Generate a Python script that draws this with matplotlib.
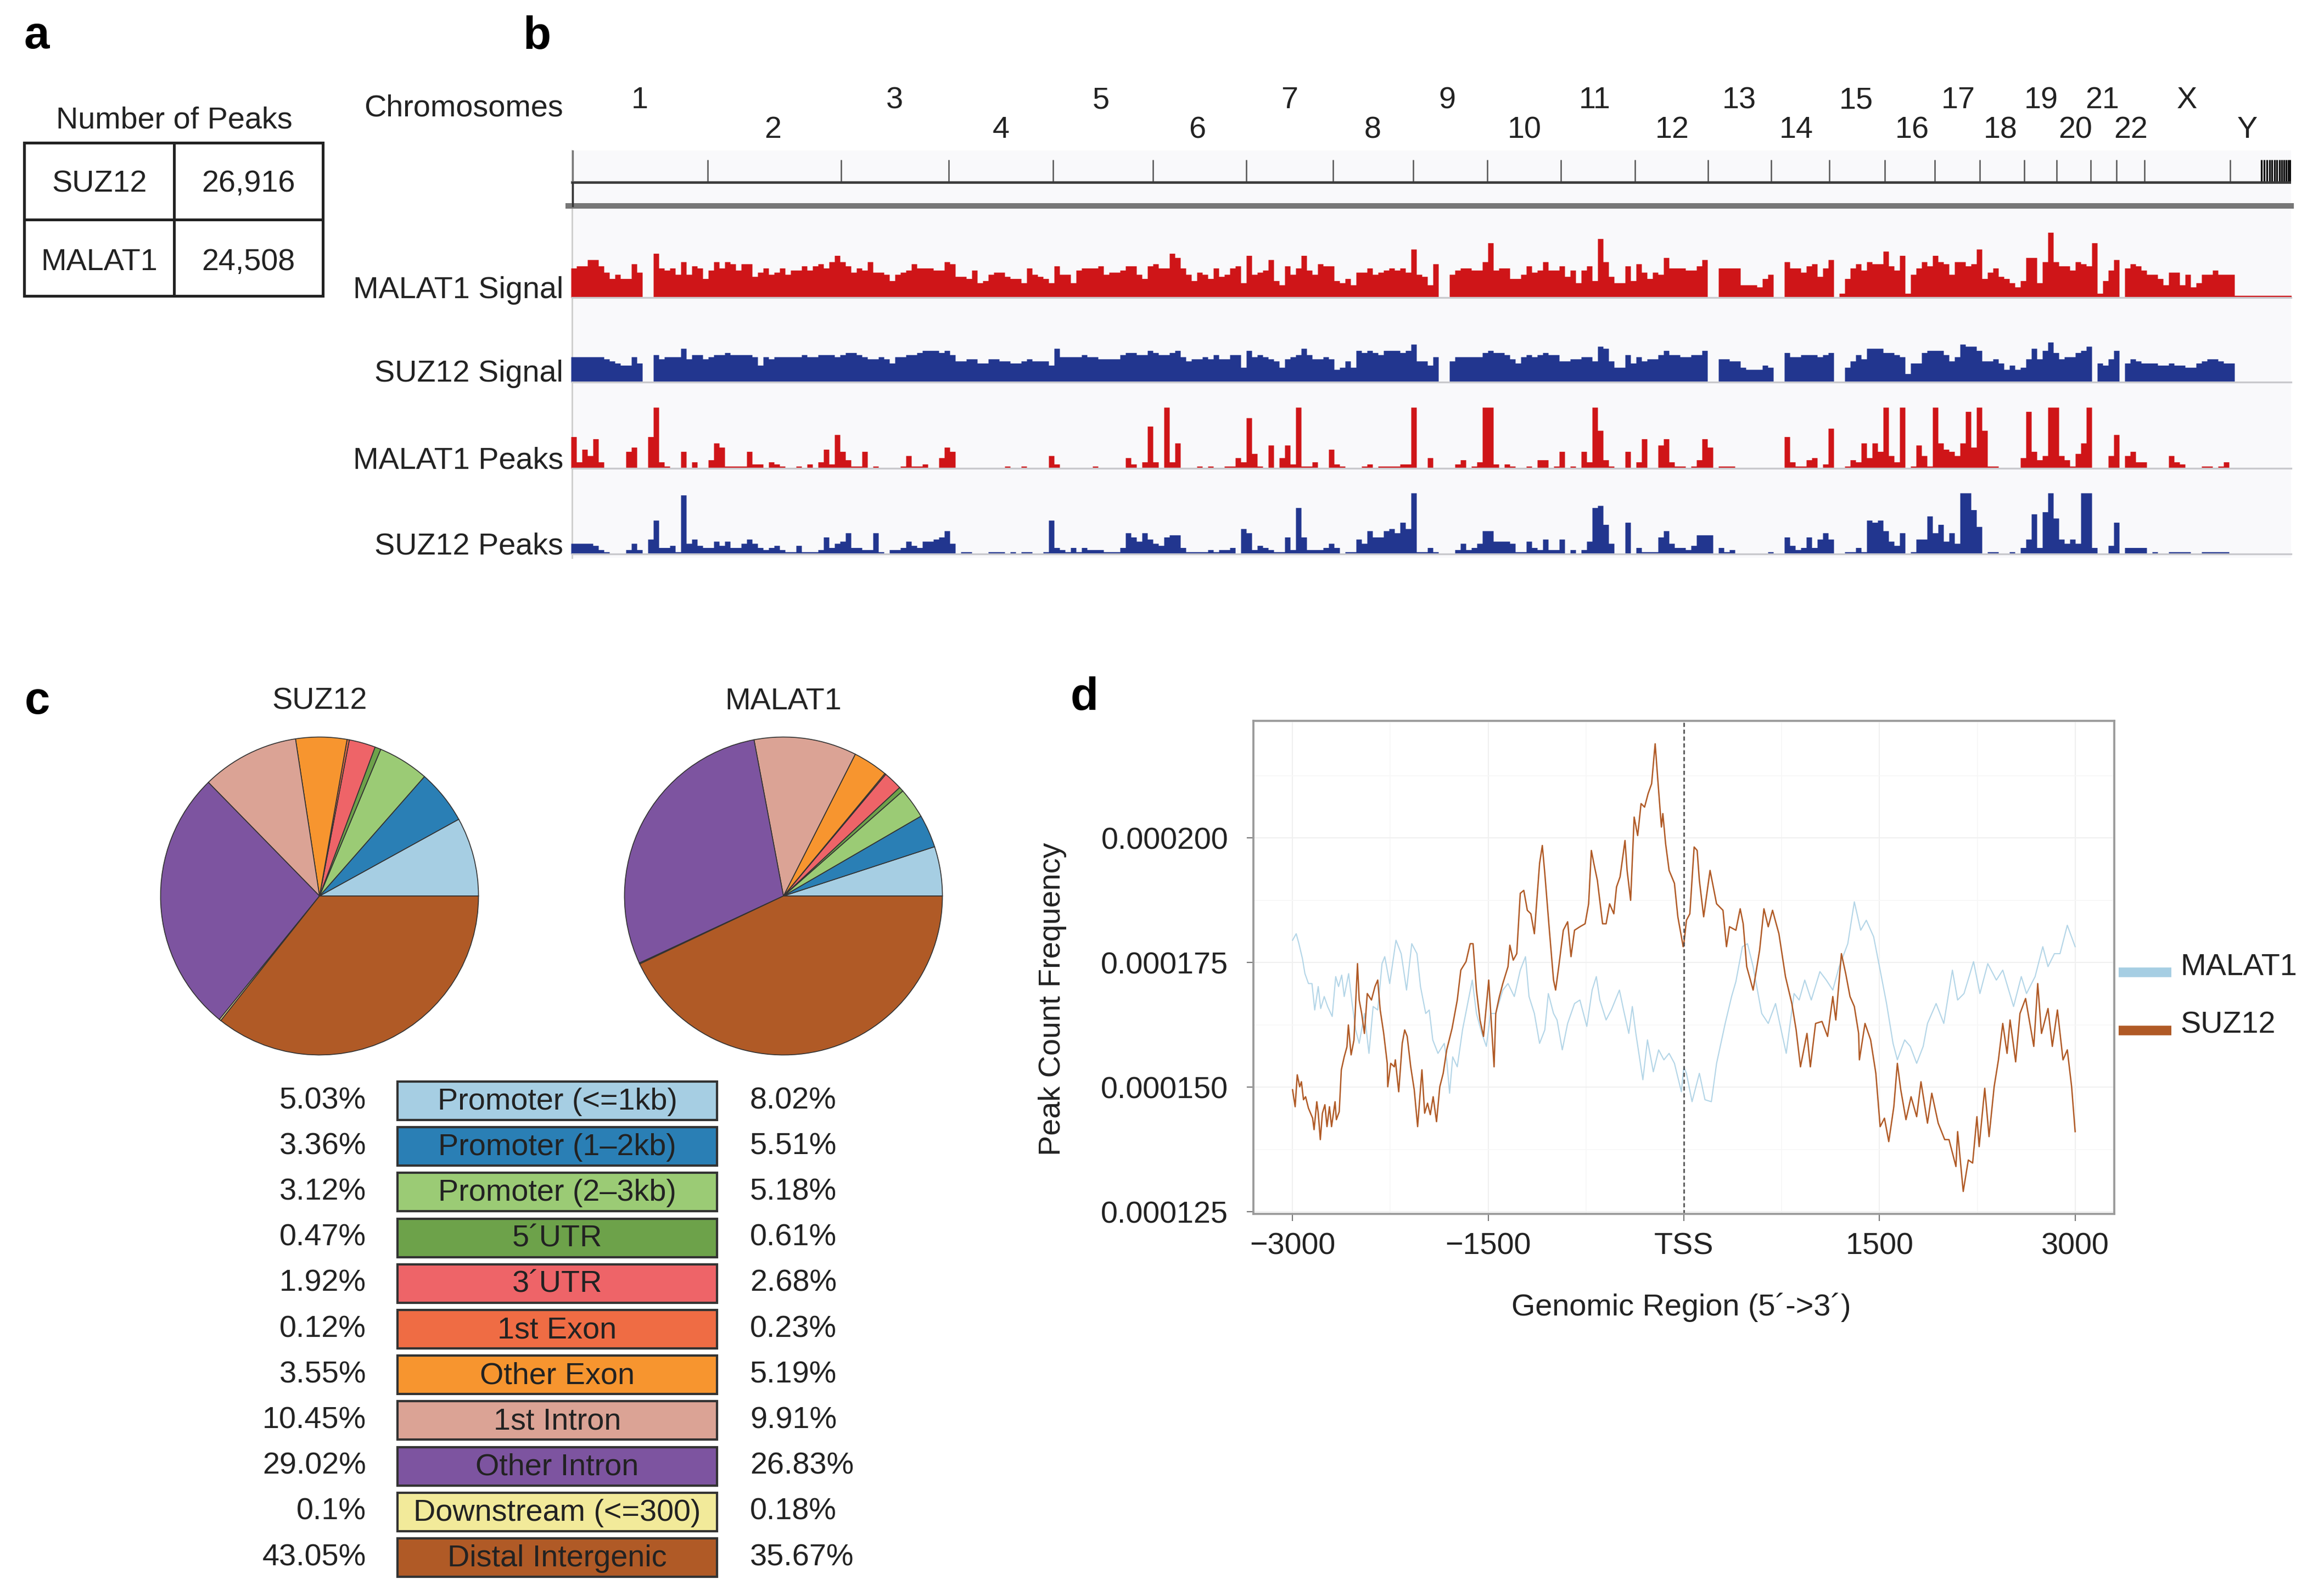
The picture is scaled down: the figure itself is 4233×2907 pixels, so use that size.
import numpy as np
import matplotlib
matplotlib.use("Agg")
import matplotlib.pyplot as plt
from matplotlib.patches import Rectangle

plt.rcParams['font.family'] = ['Liberation Sans', 'DejaVu Sans']

W, H = 4233, 2907
FS = 13.4

# panel a
peak_names = ['SUZ12', 'MALAT1']
peak_counts = ['26,916', '24,508']

# panel b: chromosome labels and boundaries (Mb from the start of chr1)
chrom_labels = ['1', '2', '3', '4', '5', '6', '7', '8', '9', '10', '11', '12', '13', '14', '15', '16',
                '17', '18', '19', '20', '21', '22', 'X', 'Y']
chrom_label_mb = [125, 368, 589, 783, 965, 1141, 1309, 1460, 1596, 1737, 1865, 2006, 2128, 2232, 2341, 2443,
                  2527, 2604, 2678, 2740, 2789, 2841, 2943, 3053]
chrom_ends_mb = [249, 492, 688, 878, 1060, 1230, 1388, 1534, 1669, 1803, 1938, 2071, 2186, 2292, 2393, 2484,
                 2566, 2647, 2706, 2768, 2815, 2866, 3022]
unplaced_mb = [3079, 3084, 3089, 3094, 3098, 3103, 3107, 3112, 3116, 3120, 3124, 3128, 3131]

# panel b: tracks, one value for each 10 Mb bin
malat1_signal = [14, 15, 15, 18, 18, 15, 12, 9, 11, 9, 9, 16, 12, 0, 0, 21, 14, 13, 14, 11,
                 17, 11, 15, 14, 9, 13, 17, 14, 17, 16, 13, 16, 16, 10, 12, 14, 11, 12, 14, 11,
                 13, 13, 15, 13, 15, 16, 14, 17, 20, 17, 15, 12, 14, 13, 17, 12, 12, 11, 8, 11,
                 12, 13, 16, 14, 14, 14, 13, 13, 17, 16, 10, 10, 9, 13, 7, 8, 11, 12, 12,
                 10, 9, 9, 7, 14, 11, 10, 9, 7, 15, 11, 11, 7, 13, 14, 14, 14, 15, 11, 12,
                 12, 13, 15, 15, 11, 9, 15, 16, 14, 14, 21, 19, 14, 11, 8, 12, 11, 9, 14, 10,
                 11, 14, 15, 7, 20, 11, 12, 13, 18, 8, 6, 15, 11, 14, 20, 13, 11, 16, 15, 15,
                 8, 7, 9, 6, 12, 12, 14, 11, 12, 13, 14, 13, 14, 12, 23, 11, 10, 6, 16,
                 0, 0, 11, 13, 14, 14, 13, 13, 17, 26, 13, 14, 14, 9, 9, 11, 15, 12, 13, 17,
                 13, 13, 15, 10, 13, 7, 13, 15, 8, 28, 17, 10, 7, 7, 15, 8, 16, 12, 9, 12,
                 11, 19, 14, 14, 14, 13, 13, 15, 18, 0, 0, 14, 14, 14, 14, 6, 6, 6, 5, 9,
                 11, 0, 0, 17, 14, 14, 12, 15, 16, 10, 14, 18, 0, 2, 9, 14, 16, 13,
                 17, 16, 16, 22, 15, 13, 20, 2, 11, 14, 17, 15, 20, 17, 16, 11, 17, 17, 15, 16,
                 23, 9, 12, 14, 10, 9, 7, 5, 8, 19, 19, 7, 17, 31, 17, 15, 15, 13, 17, 16,
                 15, 26, 2, 8, 13, 18, 0, 14, 16, 15, 13, 11, 11, 9, 6, 12, 12, 6, 11, 5,
                 7, 11, 11, 13, 11, 11, 11, 1, 1, 1, 1, 1, 1, 1, 1, 1, 1, 1]

suz12_signal = [12, 12, 12, 12, 12, 12, 11, 10, 9, 8, 8, 12, 9, 0, 0, 13, 11, 12, 12, 12,
                16, 11, 13, 13, 11, 12, 13, 13, 14, 13, 13, 13, 13, 12, 8, 12, 11, 12, 12, 12,
                12, 12, 13, 12, 12, 13, 13, 13, 12, 13, 14, 14, 13, 12, 11, 11, 12, 11, 9, 12,
                12, 13, 13, 14, 15, 15, 15, 14, 15, 13, 10, 10, 11, 11, 9, 9, 11, 11, 10,
                10, 9, 9, 10, 11, 10, 10, 10, 8, 16, 12, 12, 12, 12, 13, 12, 12, 11, 11, 11,
                11, 13, 14, 14, 13, 13, 15, 14, 13, 13, 14, 15, 12, 10, 11, 11, 12, 11, 13, 11,
                11, 13, 13, 7, 15, 12, 13, 12, 11, 10, 7, 11, 12, 13, 16, 13, 11, 11, 12, 11,
                6, 7, 10, 7, 15, 14, 15, 14, 13, 15, 15, 15, 14, 15, 18, 10, 10, 8, 12,
                0, 0, 10, 12, 12, 12, 12, 12, 14, 15, 14, 14, 13, 11, 9, 12, 13, 12, 13, 14,
                13, 13, 10, 10, 11, 11, 12, 12, 10, 17, 16, 10, 7, 7, 13, 9, 12, 10, 11, 11,
                13, 15, 13, 13, 12, 12, 13, 13, 15, 0, 0, 11, 11, 10, 10, 7, 6, 6, 6, 8,
                7, 0, 0, 14, 12, 12, 13, 13, 13, 12, 13, 14, 0, 0, 7, 10, 13, 11,
                16, 16, 16, 14, 14, 13, 12, 4, 9, 9, 14, 15, 15, 15, 13, 10, 12, 18, 17, 17,
                15, 10, 10, 11, 9, 6, 8, 6, 7, 11, 16, 11, 15, 19, 14, 11, 12, 12, 14, 15,
                17, 0, 9, 8, 11, 15, 0, 9, 11, 10, 9, 9, 9, 8, 8, 9, 8, 8, 7, 7,
                9, 10, 11, 11, 10, 9, 9, 0, 0, 0, 0, 0, 0, 0, 0, 0, 0, 0]

malat1_peaks = [15, 3, 9, 6, 14, 3, 0, 0, 0, 0, 8, 10, 0, 0, 15, 29, 3, 1, 0, 0,
                8, 0, 3, 0, 0, 4, 12, 10, 1, 1, 1, 1, 8, 2, 2, 0, 3, 2, 1, 0,
                0, 1, 0, 2, 0, 3, 9, 2, 16, 8, 4, 1, 1, 8, 0, 1, 0, 0, 0, 0,
                1, 6, 1, 1, 2, 0, 0, 5, 10, 8, 0, 0, 0, 0, 0, 0, 0, 0, 0,
                1, 0, 0, 1, 0, 0, 0, 0, 6, 2, 0, 0, 0, 0, 0, 0, 1, 0, 0, 0,
                0, 0, 5, 2, 0, 3, 20, 3, 0, 29, 3, 12, 0, 0, 0, 1, 0, 1, 0, 0,
                1, 1, 5, 3, 24, 7, 1, 0, 11, 0, 5, 11, 2, 29, 1, 1, 3, 0, 0, 9,
                2, 1, 0, 0, 0, 1, 2, 0, 1, 1, 1, 1, 2, 2, 29, 0, 0, 5, 0,
                0, 0, 0, 2, 4, 0, 1, 3, 29, 29, 2, 0, 2, 1, 0, 0, 1, 0, 4, 4,
                0, 1, 8, 0, 1, 0, 8, 3, 29, 18, 4, 1, 0, 0, 8, 0, 3, 14, 0, 0,
                11, 14, 3, 1, 1, 0, 1, 4, 14, 10, 0, 1, 1, 1, 0, 0, 0, 0, 0, 0,
                0, 0, 0, 15, 3, 1, 1, 4, 5, 0, 2, 19, 0, 0, 1, 4, 3, 12,
                5, 12, 8, 29, 6, 3, 29, 0, 1, 11, 6, 1, 29, 12, 9, 8, 6, 12, 27, 10,
                29, 18, 1, 1, 0, 0, 0, 0, 5, 27, 8, 4, 6, 29, 29, 6, 4, 1, 7, 12,
                29, 0, 0, 0, 6, 16, 0, 6, 8, 3, 3, 0, 0, 0, 0, 6, 3, 2, 0, 0,
                0, 1, 1, 0, 1, 3, 0, 0, 0, 0, 0, 0, 0, 0, 0, 0, 0]

suz12_peaks = [5, 5, 5, 5, 4, 2, 1, 0, 0, 0, 2, 5, 2, 0, 7, 16, 3, 3, 4, 1,
               28, 5, 7, 4, 3, 3, 6, 4, 6, 3, 3, 5, 7, 5, 3, 2, 3, 4, 2, 1,
               1, 4, 1, 1, 1, 2, 8, 3, 5, 6, 10, 3, 3, 2, 2, 10, 1, 0, 2, 2,
               3, 6, 4, 3, 6, 6, 7, 8, 11, 5, 0, 1, 1, 0, 0, 0, 1, 1, 1,
               0, 1, 0, 1, 1, 0, 0, 1, 16, 3, 2, 1, 3, 1, 3, 2, 2, 2, 1, 1,
               1, 3, 10, 8, 6, 10, 7, 5, 4, 8, 9, 9, 3, 1, 1, 1, 1, 2, 1, 2,
               2, 3, 0, 12, 10, 2, 4, 3, 2, 1, 1, 8, 2, 22, 8, 2, 2, 2, 3, 5,
               3, 0, 1, 1, 7, 5, 11, 8, 8, 11, 12, 10, 15, 12, 29, 1, 1, 3, 1,
               0, 0, 0, 2, 5, 2, 3, 5, 11, 11, 6, 6, 6, 5, 1, 1, 6, 3, 2, 7,
               2, 2, 7, 0, 2, 0, 2, 6, 22, 23, 14, 5, 0, 0, 15, 0, 3, 1, 1, 1,
               8, 11, 5, 3, 3, 2, 4, 9, 9, 9, 0, 3, 1, 2, 0, 0, 0, 0, 0, 0,
               1, 0, 0, 8, 4, 2, 3, 8, 3, 7, 10, 7, 0, 0, 1, 1, 3, 1,
               16, 15, 16, 11, 6, 4, 10, 0, 1, 7, 7, 18, 10, 14, 6, 10, 5, 29, 29, 21,
               13, 0, 1, 1, 0, 0, 1, 0, 3, 7, 19, 3, 20, 29, 17, 7, 5, 7, 5, 29,
               29, 3, 0, 0, 4, 15, 0, 3, 3, 3, 3, 0, 1, 0, 0, 1, 1, 1, 1, 0,
               0, 1, 1, 1, 1, 1, 0, 0, 0, 0, 0, 0, 0, 0, 0, 0, 0]

# panel c: percentages as printed in the two columns
feature_names = ['Promoter (<=1kb)', 'Promoter (1–2kb)', 'Promoter (2–3kb)', '5´UTR', '3´UTR', '1st Exon',
                 'Other Exon', '1st Intron', 'Other Intron', 'Downstream (<=300)', 'Distal Intergenic']
left_column = [5.03, 3.36, 3.12, 0.47, 1.92, 0.12, 3.55, 10.45, 29.02, 0.1, 43.05]
right_column = [8.02, 5.51, 5.18, 0.61, 2.68, 0.23, 5.19, 9.91, 26.83, 0.18, 35.67]
feature_colors = ['#a6cee3', '#2a7fb5', '#9bcb75', '#6da24a', '#ee6468', '#ef6c44',
                  '#f7952f', '#dba395', '#7d54a0', '#f2ea9a', '#b05a26']

# panel d: peak count frequency (units of 1e-6) along the region around the TSS
suz12_x = [-3000, -2980, -2964, -2945, -2932, -2916, -2900, -2878, -2846, -2835, -2814, -2803, -2787, -2771, -2752,
           -2736, -2717, -2701, -2674, -2664, -2642, -2626, -2604, -2583, -2572, -2551, -2529, -2502, -2489, -2470,
           -2449, -2427, -2395, -2368, -2347, -2328, -2301, -2274, -2270, -2247, -2220, -2212, -2186, -2159, -2140,
           -2121, -2094, -2067, -2041, -2008, -1987, -1965, -1944, -1922, -1896, -1871, -1845, -1818, -1777, -1737,
           -1710, -1670, -1638, -1616, -1590, -1563, -1536, -1496, -1455, -1442, -1415, -1388, -1348, -1334, -1308,
           -1281, -1254, -1227, -1200, -1173, -1146, -1106, -1085, -1066, -1031, -999, -983, -959, -924, -891,
           -865, -838, -797, -757, -730, -709, -690, -663, -623, -596, -569, -537, -516, -489, -451,
           -435, -408, -381, -354, -328, -301, -274, -247, -220, -199, -172, -161, -140, -113, -72,
           -46, -5, 0, 20, 46, 79, 102, 119, 152, 201, 251, 300, 327, 350, 399,
           432, 455, 482, 531, 581, 614, 647, 680, 729, 779, 828, 861, 894, 944, 970,
           1010, 1059, 1102, 1142, 1165, 1208, 1241, 1274, 1307, 1340, 1346, 1389, 1432, 1472, 1505,
           1538, 1571, 1610, 1637, 1663, 1703, 1742, 1785, 1818, 1868, 1901, 1950, 2000, 2033, 2086,
           2099, 2142, 2181, 2214, 2247, 2264, 2307, 2340, 2379, 2412, 2445, 2478, 2501, 2544, 2577,
           2620, 2653, 2683, 2713, 2742, 2792, 2825, 2864, 2907, 2940, 2973, 3000]
suz12_y = [149.5, 146.1, 152.5, 150.1, 151.1, 147.5, 148.1, 145.8, 143.8, 141.5, 147.1, 144.8, 139.5, 144.8, 146.5,
           142.1, 146.1, 142.1, 147.1, 143.5, 145.1, 153.5, 156.1, 158.1, 162.5, 156.5, 159.5, 174.8, 167.5, 164.8,
           160.8, 168.8, 167.5, 170.2, 171.5, 165.5, 160.8, 154.8, 150.1, 154.8, 154.1, 155.5, 149.1, 158.8, 161.5,
           160.2, 154.1, 149.5, 142.1, 153.5, 144.8, 146.8, 144.5, 148.1, 143.1, 150.1, 152.8, 157.5, 161.8, 167.5,
           173.5, 175.2, 178.8, 178.8, 169.5, 163.5, 160.2, 171.5, 154.1, 164.8, 168.1, 170.8, 174.2, 178.5, 175.5,
           176.8, 188.9, 189.5, 185.5, 184.8, 180.8, 194.9, 198.5, 192.9, 181.5, 171.5, 169.5, 174.2, 181.5, 183.2,
           176.2, 181.5, 182.2, 182.8, 186.8, 197.5, 194.9, 191.5, 182.8, 182.8, 186.8, 184.8, 190.2, 192.2, 199.5,
           193.5, 187.5, 204.2, 200.5, 206.9, 206.2, 208.9, 210.9, 218.9, 211.5, 202.2, 204.9, 198.9, 193.5, 190.9,
           184.2, 178.2, 178.8, 183.5, 184.8, 198.2, 197.5, 191.5, 184.2, 193.5, 186.8, 185.5, 178.2, 182.2, 181.5,
           185.8, 182.8, 174.2, 169.5, 177.5, 185.8, 182.2, 185.5, 180.8, 172.2, 166.8, 161.5, 154.1, 160.8, 154.1,
           162.8, 163.2, 160.2, 168.2, 163.5, 176.8, 172.8, 168.2, 166.2, 160.8, 155.5, 162.8, 159.5, 152.8, 142.1,
           143.8, 139.1, 146.1, 154.8, 149.5, 143.5, 148.1, 144.1, 151.1, 142.8, 148.8, 142.8, 139.5, 139.5, 134.1,
           141.1, 129.1, 135.4, 134.8, 144.1, 138.1, 149.8, 140.1, 150.1, 155.5, 162.8, 156.8, 163.5, 155.1, 164.8,
           167.8, 162.8, 158.2, 170.8, 160.8, 165.8, 158.2, 165.5, 155.5, 157.5, 150.1, 141.1]

malat1_x = [-3000, -2972, -2951, -2924, -2905, -2878, -2851, -2830, -2803, -2784, -2757, -2731, -2696, -2669, -2647,
            -2623, -2604, -2570, -2543, -2516, -2489, -2449, -2414, -2382, -2347, -2314, -2293, -2255, -2207, -2167,
            -2126, -2086, -2046, -2019, -1979, -1952, -1925, -1885, -1837, -1818, -1796, -1772, -1737, -1697, -1657,
            -1622, -1590, -1549, -1514, -1482, -1442, -1388, -1348, -1300, -1254, -1214, -1187, -1146, -1106, -1066,
            -1039, -999, -972, -932, -891, -838, -797, -744, -703, -671, -644, -596, -556, -494, -462,
            -422, -395, -368, -314, -279, -234, -193, -153, -113, -72, -19, 0, 20, 63, 119,
            162, 211, 251, 317, 366, 399, 449, 488, 531, 564, 597, 647, 703, 746, 785,
            845, 884, 927, 977, 1043, 1092, 1142, 1191, 1257, 1307, 1356, 1399, 1455, 1505, 1554,
            1604, 1637, 1693, 1736, 1785, 1835, 1868, 1934, 1993, 2059, 2099, 2148, 2221, 2270, 2330,
            2396, 2445, 2528, 2587, 2627, 2693, 2752, 2792, 2841, 2884, 2940, 3000]
malat1_y = [179.5, 180.8, 178.8, 175.8, 172.8, 170.8, 170.8, 165.5, 170.2, 165.8, 168.2, 166.2, 164.2, 172.2, 170.2,
            172.5, 168.2, 172.8, 166.8, 161.5, 158.8, 164.8, 156.8, 166.2, 165.5, 174.8, 176.2, 170.8, 179.5, 176.8,
            169.5, 178.8, 176.8, 170.2, 164.8, 165.5, 159.5, 156.8, 158.8, 155.5, 148.8, 156.1, 154.1, 161.5, 166.8,
            171.5, 164.8, 160.8, 158.2, 164.8, 164.8, 169.5, 170.8, 168.2, 173.5, 176.2, 168.2, 164.8, 158.8, 161.5,
            168.8, 164.8, 163.5, 157.5, 162.8, 166.8, 167.5, 162.2, 169.5, 172.2, 167.5, 163.5, 165.5, 169.5, 165.5,
            160.8, 166.2, 160.8, 151.5, 159.5, 153.1, 157.5, 155.5, 156.8, 154.8, 149.1, 154.1, 152.8, 147.1, 152.8,
            147.5, 147.1, 154.8, 162.8, 168.2, 171.2, 178.2, 178.8, 174.2, 169.5, 164.8, 162.8, 166.8, 161.5, 156.8,
            168.8, 167.5, 171.5, 167.5, 173.2, 171.5, 169.5, 174.2, 178.8, 187.2, 181.5, 183.5, 180.2, 173.5, 166.8,
            158.8, 155.5, 159.5, 158.2, 154.8, 158.2, 162.8, 166.8, 162.8, 173.5, 167.5, 168.8, 175.2, 168.8, 174.8,
            171.5, 173.5, 166.2, 172.2, 168.8, 172.2, 178.2, 174.2, 176.8, 176.8, 182.5, 178.2]
x_ticks = [-3000, -1500, 0, 1500, 3000]
x_tick_labels = ['−3000', '−1500', 'TSS', '1500', '3000']
y_ticks = [125, 150, 175, 200]
y_tick_labels = ['0.000125', '0.000150', '0.000175', '0.000200']


def px_axes(x0, y0, x1, y1):
    # axes from a pixel box, y counted from the top of the figure
    return fig.add_axes([x0 / W, 1 - y1 / H, (x1 - x0) / W, (y1 - y0) / H])


fig = plt.figure(figsize=(W / 300, H / 300), dpi=300, facecolor='white')

# overlay in pixel coordinates for texts, boxes and backgrounds
over = px_axes(0, 0, W, H)
over.set_xlim(0, W)
over.set_ylim(H, 0)
over.axis('off')

for letter, lx, ly in [('a', 67, 66), ('b', 978, 66), ('c', 68, 1278), ('d', 1975, 1270)]:
    over.text(lx, ly, letter, fontsize=20, fontweight='bold', ha='center', va='center')

# Panel a
over.text(317, 220, 'Number of Peaks', fontsize=FS, ha='center', va='center', color='#222222')
over.add_patch(Rectangle((44, 260), 544, 279, fc='none', ec='#222222', lw=1.2))
over.plot([317, 317], [260, 539], color='#222222', lw=1.2)
over.plot([44, 588], [400, 400], color='#222222', lw=1.2)
for i in range(2):
    row_y = [335, 478][i]
    over.text(181, row_y, peak_names[i], fontsize=FS, ha='center', va='center', color='#222222')
    over.text(452, row_y, peak_counts[i], fontsize=FS, ha='center', va='center', color='#222222')

# Panel b
over.add_patch(Rectangle((1042, 274), 3131, 742, fc='#f9f9fb', ec='none', zorder=0))
over.plot([1042, 1042], [274, 1016], color='#cfcfcf', lw=0.7, zorder=1)
over.text(1026, 198, 'Chromosomes', fontsize=FS, ha='right', va='center', color='#222222')
for name, ty in zip(['MALAT1 Signal', 'SUZ12 Signal', 'MALAT1 Peaks', 'SUZ12 Peaks'], [529, 681, 839, 996]):
    over.text(1026, ty, name, fontsize=FS, ha='right', va='center', color='#222222')
for i, lab in enumerate(chrom_labels):
    over.text(1040 + chrom_label_mb[i], 183 if i % 2 == 0 else 237, lab, fontsize=FS, ha='center', va='center',
              color='#222222')

ax_ruler = px_axes(1040, 274, 4173, 380)
ax_ruler.set_xlim(0, 3133)
ax_ruler.set_ylim(106, 0)
ax_ruler.axis('off')
ax_ruler.vlines(chrom_ends_mb, 17, 58, color='#555555', lw=0.6)
ax_ruler.vlines(unplaced_mb, 17, 58, color='#111111', lw=0.8)
ax_ruler.plot([2, 3133], [58, 58], color='#3a3a3a', lw=1.1)
ax_ruler.plot([-5, 3133], [101, 101], color='#777777', lw=2.4, clip_on=False)
ax_ruler.plot([3, 3], [0, 101], color='#777777', lw=0.8)
ax_ruler.plot([3, 3], [58, 101], color='#333333', lw=0.8)

tracks = [(malat1_signal, 542, '#cf1518'), (suz12_signal, 696, '#22368f'),
          (malat1_peaks, 853, '#cf1518'), (suz12_peaks, 1009, '#22368f')]
for vals, base, col in tracks:
    ax = px_axes(1040, base - 130, 4173, base)
    ax.set_xlim(0, 3133)
    ax.set_ylim(0, 130 / 3.83)
    ax.axis('off')
    edges = np.arange(len(vals) + 1) * 10
    ax.fill_between(edges, list(vals) + [vals[-1]], step='post', color=col, lw=0)
    ax.plot([2, 3133], [0, 0], color='#c9c9cd', lw=0.8, zorder=3, clip_on=False)

# Panel c
for pie_vals, title, cx in [(right_column, 'SUZ12', 582), (left_column, 'MALAT1', 1427)]:
    ax = px_axes(cx - 291, 1632 - 291, cx + 291, 1632 + 291)
    ax.pie(pie_vals, colors=feature_colors, startangle=0, counterclock=True, radius=1,
           wedgeprops={'edgecolor': '#333333', 'linewidth': 0.4})
    ax.set_xlim(-1.005, 1.005)
    ax.set_ylim(-1.005, 1.005)
    over.text(cx, 1278, title, fontsize=FS, ha='center', va='center', color='#222222')

for i, name in enumerate(feature_names):
    row_y = 2005 + i * 83.2
    over.add_patch(Rectangle((724, row_y - 35), 582, 70, fc=feature_colors[i], ec='#333333', lw=1.0))
    over.text(1015, row_y + 2, name, fontsize=FS, ha='center', va='center', color='#222222')
    over.text(667, row_y, f'{left_column[i]}%', fontsize=FS, ha='right', va='center', color='#222222')
    over.text(1366, row_y, f'{right_column[i]}%', fontsize=FS, ha='left', va='center', color='#222222')

# Panel d
ax = px_axes(2283, 1313, 3851, 2211)
ax.set_xlim(-3300, 3300)
ax.set_ylim(124.6, 223.5)
ax.set_xticks(x_ticks)
ax.set_xticklabels(x_tick_labels, fontsize=FS, color='#222222')
ax.set_yticks(y_ticks)
ax.set_yticklabels(y_tick_labels, fontsize=FS, color='#222222')
ax.set_xticks([-2250, -750, 750, 2250], minor=True)
ax.set_yticks([137.5, 162.5, 187.5, 212.5], minor=True)
ax.grid(True, which='major', color='#f0f0f0', lw=0.5)
ax.grid(True, which='minor', color='#f7f7f7', lw=0.4)
ax.tick_params(axis='x', which='major', length=3, width=0.5, color='#777777', pad=5)
ax.tick_params(axis='y', which='major', length=3, width=0.5, color='#777777', pad=8)
ax.tick_params(which='minor', length=0)
ax.set_axisbelow(True)
for spine in ax.spines.values():
    spine.set_color('#9a9a9a')
    spine.set_linewidth(0.9)
ax.plot(malat1_x, malat1_y, color='#a6cee3', lw=0.5, alpha=0.85)
ax.plot(suz12_x, suz12_y, color='#b05a26', lw=0.6)
ax.axvline(0, color='#444444', lw=0.6, ls=(0, (3, 2)))

over.text(1917, 1820, 'Peak Count Frequency', fontsize=FS, rotation=90, ha='center', va='center', color='#222222')
over.text(3062, 2381, 'Genomic Region (5´->3´)', fontsize=FS, ha='center', va='center', color='#222222')
over.plot([3859, 3955], [1771, 1771], color='#a6cee3', lw=4.2, solid_capstyle='butt')
over.plot([3859, 3955], [1877, 1877], color='#b05a26', lw=4.2, solid_capstyle='butt')
over.text(3971, 1762, 'MALAT1', fontsize=FS, ha='left', va='center', color='#222222')
over.text(3971, 1868, 'SUZ12', fontsize=FS, ha='left', va='center', color='#222222')

fig.savefig('out.png', dpi=300)
